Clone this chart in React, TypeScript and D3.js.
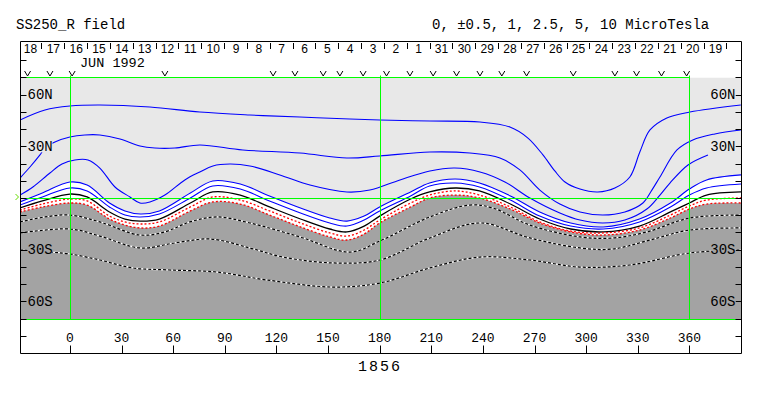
import { useEffect, useRef } from 'react'
import * as d3 from 'd3'

type Pt = [number, number]

const bundleLon = [-29, -16, 0, 10, 23, 32, 41, 52, 70, 83, 99, 116, 134, 151, 161, 171, 180, 198, 209, 224, 238, 256, 273, 291, 310, 331, 349, 360, 370, 390]
// latitudes of each bundle contour at bundleLon
const pos1 = [-2.3, 2.9, 9.3, 7.5, -2.9, -7.5, -9.3, -7.5, 2.9, 9.9, 8.1, 1.2, -5.8, -11.6, -13.4, -10.5, -5.2, 3.5, 8.7, 11.0, 8.7, 1.2, -8.1, -14.5, -16.8, -12.2, -2.9, 5.2, 10.5, 13.4]
const pos05 = [-4.1, 0.6, 5.8, 4.1, -5.2, -9.9, -11.0, -9.3, 0, 7.0, 5.2, -1.7, -8.7, -14.5, -16.3, -12.8, -7.5, 1.2, 7.0, 8.7, 6.4, -1.2, -10.5, -16.3, -18.0, -13.9, -5.2, 1.7, 5.8, 8.1]
const zero = [-5.8, -1.7, 2.3, 0.6, -8.1, -12.2, -13.4, -12.2, -2.9, 3.5, 1.7, -5.2, -12.2, -18.0, -19.7, -16.3, -10.5, -0.6, 3.5, 5.8, 4.1, -3.5, -12.2, -18.0, -19.7, -16.3, -8.1, -2.9, 1.7, 3.5]
const neg05 = [-7.0, -3.5, -0.6, -1.7, -10.5, -13.9, -15.1, -13.9, -5.2, 0.6, -1.2, -7.5, -14.5, -20.3, -22.1, -18.6, -12.8, -2.9, 1.7, 4.1, 1.7, -5.2, -13.9, -19.2, -20.3, -17.4, -9.9, -4.6, -1.2, 0]
const neg1 = [-8.1, -5.2, -2.9, -4.1, -12.2, -15.7, -17.4, -16.3, -7.5, -2.3, -3.5, -9.9, -16.8, -22.6, -24.4, -20.9, -14.5, -5.2, 0, 1.7, 0, -6.4, -14.5, -19.7, -21.5, -18.6, -11.6, -6.4, -3.5, -2.9]

// outer contours as [lon, lat]
const pos10: Pt[] = [[-29, 45.3], [-14.5, 51.1], [0, 53.4], [17.4, 54], [46.5, 52.8], [75.5, 49.9], [104.6, 48.2], [133.7, 47], [162.7, 45.9], [180.1, 45.3], [209.2, 44.7], [238.3, 44.1], [255.7, 41.2], [266.2, 34.8], [274.9, 25], [281.8, 15.7], [287.7, 9.3], [296.4, 5.2], [306.8, 3.5], [316.7, 5.8], [325.4, 12.2], [331.2, 26.7], [337.1, 39.5], [346.9, 46.5], [360.3, 49.9], [389.9, 54]]
const pos5: Pt[] = [[-29, 11.6], [-23.2, 18], [-17.4, 25], [-14.5, 29], [-8.7, 32.5], [0, 35.4], [8.7, 36.6], [17.4, 36.6], [29.1, 34.3], [40.7, 30.2], [49.4, 29], [61, 29], [75.5, 30.8], [100.5, 27.9], [133.7, 26.1], [161, 23.2], [180.1, 24.4], [209.2, 26.7], [232.4, 26.1], [249.9, 23.2], [261.5, 16.3], [273.1, 4.6], [284.7, -3.5], [296.4, -8.1], [309.7, -9.9], [322.5, -8.1], [333, -2.9], [338.2, 4.6], [342.9, 12.2], [352.8, 27.9], [362, 33.7], [374.8, 37.2], [389.9, 39.5]]
const pos25: Pt[] = [[-29, 1.7], [-21.5, 6.4], [-11.6, 14.5], [-4.6, 19.7], [2.9, 22.1], [10.5, 22.1], [17.4, 17.4], [26.2, 6.4], [34.9, 0.6], [40.7, -2.9], [46.5, -2.3], [55.2, 1.7], [66.8, 10.5], [75.5, 15.1], [83.1, 18.6], [93, 19.7], [104.6, 18.6], [122, 13.4], [139.5, 7.5], [161, 3.5], [174.3, 4.6], [191.8, 10.5], [209.2, 15.7], [223.7, 17.4], [238.3, 15.1], [252.8, 9.3], [267.3, 0], [284.7, -8.7], [296.4, -12.8], [309.7, -14.5], [322.5, -12.8], [335.3, -6.4], [342.9, 1.7], [348.7, 8.7], [359.2, 19.2], [370.8, 25]]
const neg25: Pt[] = [[-29, -13.9], [-14.5, -11], [0, -9.9], [17.4, -13.9], [40.7, -21.5], [55.2, -19.7], [69.7, -13.9], [85.4, -11], [104.6, -14.5], [133.7, -22.6], [162.7, -31.4], [180.1, -25], [209.2, -11], [232.4, -4.1], [245.8, -5.8], [267.3, -15.7], [296.4, -22.6], [315.6, -23.2], [335.3, -19.7], [360.3, -11.6], [389.9, -9.9]]
const neg5: Pt[] = [[-29, -20.3], [0, -18], [17.4, -22.1], [40.7, -29], [61, -26.1], [81.4, -23.8], [104.6, -29], [123.8, -34.3], [152.8, -37.7], [180.1, -36], [209.2, -23.2], [238.3, -14.5], [267.3, -23.2], [296.4, -29], [315.6, -29.6], [337.1, -24.4], [360.3, -18.6], [389.9, -17.4]]
const neg10: Pt[] = [[-29, -30.2], [-11.6, -31.4], [0, -32.5], [17.4, -36], [36.6, -40.6], [58.1, -41.8], [85.4, -43], [114.5, -47.6], [152.8, -51.7], [180.1, -49.4], [209.2, -40.6], [238.3, -34.3], [267.3, -36], [296.4, -40.1], [325.4, -38.9], [360.3, -31.9], [389.9, -30.2]]

const lonTicks = [0, 30, 60, 90, 120, 150, 180, 210, 240, 270, 300, 330, 360]
const latTicks = [-80, -70, -60, -50, -40, -30, -20, -10, 0, 10, 20, 30, 40, 50, 60, 70, 80]
const latLabels = [
  { lat: 60, text: '60N' },
  { lat: 30, text: '30N' },
  { lat: -30, text: '30S' },
  { lat: -60, text: '60S' },
]
const dayLabels = [18, 17, 16, 15, 14, 13, 12, 11, 10, 9, 8, 7, 6, 5, 4, 3, 2, 1, 31, 30, 29, 28, 27, 26, 25, 24, 23, 22, 21, 20, 19]
// longitudes of the "v" marks under the date strip
const obsLon = [-24.6, -11.6, 1.3, 55.2, 118.1, 130.8, 147.2, 156.9, 170.4, 184, 197.6, 211.1, 224.7, 238.3, 251, 265.4, 292.5, 316.7, 329.3, 343.8, 358.4]

const W = 763
const H = 396

export default function App() {
  const ref = useRef<SVGSVGElement | null>(null)

  useEffect(() => {
    const svg = d3.select(ref.current)
    svg.selectAll('*').remove()

    const x = d3.scaleLinear().domain([-29, 390]).range([20, 741])
    const y = d3.scaleLinear().domain([-90, 90]).range([353, 43])
    // dates run backwards along Carrington longitude
    const day = d3.scaleLinear().domain([0, dayLabels.length - 1]).range([x.invert(30), x.invert(715)])
    const px = (v: number) => Math.round(v) + 0.5
    const mono = '"Liberation Mono", "DejaVu Sans Mono", monospace'
    const sans = '"Liberation Sans", Arial, sans-serif'

    const x0 = px(x(-29))
    const x1 = px(x(390))
    const yTop = px(y(70))
    const yBot = px(y(-70))
    const lightGray = '#e8e8e8'
    const darkGray = '#a3a3a3'
    const green = '#00ff00'

    svg.append('defs').append('clipPath').attr('id', 'plot')
      .append('rect').attr('x', x0).attr('y', yTop).attr('width', x1 - x0).attr('height', yBot - yTop)

    const curve = d3.curveCatmullRom.alpha(0.5)
    const line = d3.line<Pt>().x((d) => x(d[0])).y((d) => y(d[1])).curve(curve)
    const zip = (lats: number[]) => bundleLon.map((l, i) => [l, lats[i]] as Pt)

    const plot = svg.append('g').attr('clip-path', 'url(#plot)')

    // shading: light above +1, white band, dark below -1
    plot.append('rect').attr('x', x0).attr('y', yTop).attr('width', x1 - x0).attr('height', yBot - yTop).attr('fill', '#fff')
    plot.append('path').datum(zip(pos1))
      .attr('d', d3.area<Pt>().x((d) => x(d[0])).y0(yTop).y1((d) => y(d[1])).curve(curve))
      .attr('fill', lightGray)
    plot.append('path').datum(zip(neg1))
      .attr('d', d3.area<Pt>().x((d) => x(d[0])).y0(yBot).y1((d) => y(d[1])).curve(curve))
      .attr('fill', darkGray)

    // positive contours
    ;[pos10, pos5, pos25, zip(pos1), zip(pos05)].forEach((c) => {
      plot.append('path').datum(c).attr('d', line).attr('fill', 'none').attr('stroke', '#0000ff').attr('stroke-width', 1.1)
    })
    plot.append('path').datum(zip(zero)).attr('d', line).attr('fill', 'none').attr('stroke', '#000').attr('stroke-width', 1.3)
    ;[neg05, neg1].forEach((c) => {
      plot.append('path').datum(zip(c)).attr('d', line).attr('fill', 'none').attr('stroke', '#ff0000')
        .attr('stroke-width', 1.3).attr('stroke-dasharray', '2 2')
    })
    ;[neg25, neg5, neg10].forEach((c) => {
      plot.append('path').datum(c).attr('d', line).attr('fill', 'none').attr('stroke', '#fff').attr('stroke-width', 1.2)
      plot.append('path').datum(c).attr('d', line).attr('fill', 'none').attr('stroke', '#000')
        .attr('stroke-width', 1.2).attr('stroke-dasharray', '3 2')
    })

    // green reference lines
    const gl = svg.append('g').attr('stroke', green).attr('stroke-width', 1)
    ;[0, 180, 360].forEach((l) => {
      gl.append('line').attr('x1', px(x(l))).attr('x2', px(x(l))).attr('y1', yTop - 2).attr('y2', yBot)
    })
    gl.append('line').attr('x1', x0).attr('x2', x1).attr('y1', px(y(0))).attr('y2', px(y(0)))
    gl.append('line').attr('x1', x0).attr('x2', px(x(360))).attr('y1', yTop).attr('y2', yTop)
    gl.append('line').attr('x1', x0).attr('x2', x1).attr('y1', yBot).attr('y2', yBot)
    svg.append('path').attr('d', `M${x0 - 5},${y(0) - 4}L${x0 - 2},${y(0) - 1}L${x0 - 5},${y(0) + 2}`)
      .attr('fill', 'none').attr('stroke', '#66dd00')

    // frame
    const frame = svg.append('g').attr('stroke', '#000').attr('stroke-width', 1)
    const fTop = px(y(90) - 2)
    const fBot = px(y(-90))
    frame.append('line').attr('x1', x0).attr('x2', x0).attr('y1', fTop).attr('y2', fBot)
    frame.append('line').attr('x1', x1).attr('x2', x1).attr('y1', fTop).attr('y2', fBot)
    frame.append('line').attr('x1', x0).attr('x2', x1).attr('y1', fTop).attr('y2', fTop)
    frame.append('line').attr('x1', x0).attr('x2', x1).attr('y1', fBot).attr('y2', fBot)
    latTicks.forEach((t) => {
      frame.append('line').attr('x1', x0).attr('x2', x0 + 6).attr('y1', px(y(t))).attr('y2', px(y(t)))
      frame.append('line').attr('x1', x1 - 6).attr('x2', x1).attr('y1', px(y(t))).attr('y2', px(y(t)))
    })
    lonTicks.forEach((t) => {
      frame.append('line').attr('x1', px(x(t))).attr('x2', px(x(t))).attr('y1', fBot).attr('y2', fBot - 8)
    })

    // latitude labels with backgrounds that hide the contours
    latLabels.forEach(({ lat, text }) => {
      const bg = lat > 0 ? lightGray : darkGray
      ;[[x0 + 7, 'start'], [x1 - 6, 'end']].forEach(([lx, anchor]) => {
        const w = 25
        const left = anchor === 'start' ? (lx as number) : (lx as number) - w
        svg.append('rect').attr('x', left).attr('y', y(lat) - 6).attr('width', w).attr('height', 12).attr('fill', bg)
        svg.append('text').attr('x', lx as number).attr('y', y(lat) + 4.5)
          .attr('text-anchor', anchor as string).attr('font-family', mono).attr('font-size', 14).attr('fill', '#000')
          .text(text)
      })
    })

    // longitude labels
    lonTicks.forEach((t) => {
      svg.append('text').attr('x', x(t)).attr('y', 342).attr('text-anchor', 'middle')
        .attr('font-family', mono).attr('font-size', 13).attr('fill', '#000').text(String(t))
    })

    // date strip
    dayLabels.forEach((d, i) => {
      svg.append('text').attr('x', x(day(i)) + 0.5).attr('y', 52.5).attr('text-anchor', 'middle')
        .attr('font-family', sans).attr('font-size', 12).attr('fill', '#000').text(String(d))
    })
    d3.range(-0.5, dayLabels.length, 1).forEach((i) => {
      const tx = px(x(day(i)))
      if (tx < x0 + 1 || tx > x1 - 1) return
      frame.append('line').attr('x1', tx).attr('x2', tx).attr('y1', 43).attr('y2', 49)
    })
    svg.append('text').attr('x', 80).attr('y', 67).attr('font-family', mono).attr('font-size', 13.5).attr('fill', '#000').text('JUN 1992')
    obsLon.forEach((l) => {
      svg.append('path').attr('d', `M${x(l) - 3},71L${x(l)},76L${x(l) + 3},71`)
        .attr('fill', 'none').attr('stroke', '#000').attr('stroke-width', 1)
    })

    // headers
    svg.append('text').attr('x', 16).attr('y', 29).attr('font-family', mono).attr('font-size', 14).attr('fill', '#000').text('SS250_R field')
    svg.append('text').attr('x', 432).attr('y', 29).attr('font-family', mono).attr('font-size', 14).attr('fill', '#000')
      .text('0, ±0.5, 1, 2.5, 5, 10 MicroTesla')
    svg.append('text').attr('x', 380).attr('y', 371).attr('text-anchor', 'middle').attr('font-family', mono)
      .attr('font-size', 15).attr('letter-spacing', 2).attr('fill', '#000').text('1856')
  }, [])

  return <svg ref={ref} width={W} height={H} style={{ position: 'absolute', left: 0, top: 0, background: '#fff' }} />
}
